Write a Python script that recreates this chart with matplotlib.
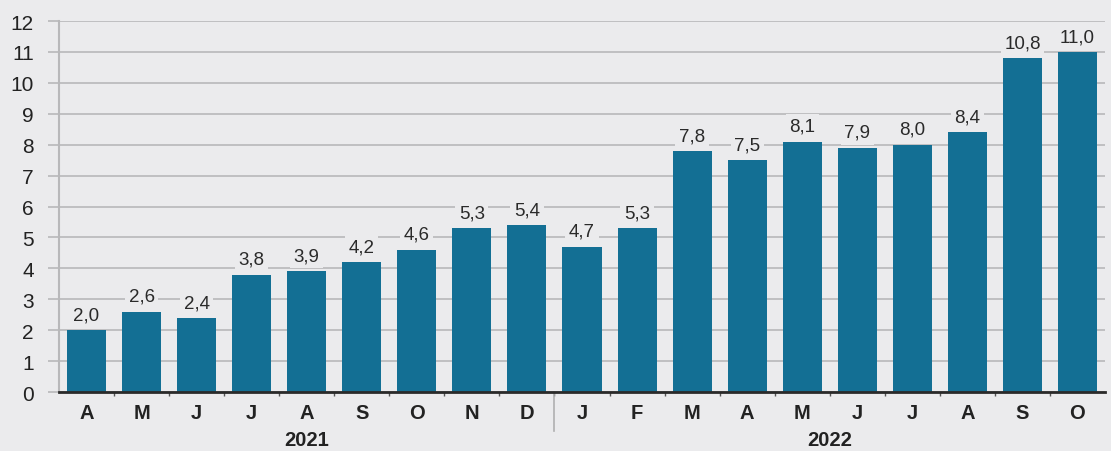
import numpy as np
import matplotlib.pyplot as plt

months = ['A', 'M', 'J', 'J', 'A', 'S', 'O', 'N', 'D',
          'J', 'F', 'M', 'A', 'M', 'J', 'J', 'A', 'S', 'O']
values = [2.0, 2.6, 2.4, 3.8, 3.9, 4.2, 4.6, 5.3, 5.4,
          4.7, 5.3, 7.8, 7.5, 8.1, 7.9, 8.0, 8.4, 10.8, 11.0]
years = ['2021', '2022']
year_start = [0, 9]
year_end = [8, 18]

bg = '#ebebed'
bar_col = '#136f94'
grid_col = '#b8b8ba'

plt.rcParams['font.family'] = ['Liberation Sans', 'DejaVu Sans']

fig = plt.figure(figsize=(11.11, 4.52), dpi=100, facecolor=bg)
ax = fig.add_axes([0.0531, 0.1305, 0.9415, 0.8208], facecolor=bg)

x = np.arange(len(values))
ax.bar(x, values, width=0.71, color=bar_col, zorder=3)

for xi, v in zip(x, values):
    ax.text(xi, v + 0.22, f'{v:.1f}'.replace('.', ','), ha='center', va='bottom',
            fontsize=13.5, color='#2a2a2a', zorder=4,
            bbox=dict(facecolor=bg, edgecolor='none', pad=2.5))

ax.set_xlim(-0.5, len(values) - 0.5)
ax.set_ylim(0, 12)
ax.set_yticks(range(0, 13))
ax.yaxis.grid(True, color=grid_col, linewidth=1.2, zorder=0)
ax.tick_params(axis='y', length=8, width=1.2, color=grid_col, labelsize=15,
               labelcolor='#222222', pad=10)

ax.set_xticks(x)
ax.set_xticklabels(months, fontsize=14.5, fontweight='bold', color='#222222')
ax.set_xticks(x[:-1] + 0.5, minor=True)
ax.tick_params(axis='x', which='major', length=0, pad=8)
ax.tick_params(axis='x', which='minor', length=3, width=1, color='#555555')

for s in ['top', 'right']:
    ax.spines[s].set_visible(False)
ax.spines['left'].set_color(grid_col)
ax.spines['left'].set_linewidth(1.5)
ax.spines['bottom'].set_color('#2a2a2a')
ax.spines['bottom'].set_linewidth(2)
ax.spines['bottom'].set_zorder(5)

# year labels and separator
for yl, s, e in zip(years, year_start, year_end):
    ax.text((s + e) / 2, -1.55, yl, ha='center', va='center', fontsize=14.5,
            fontweight='bold', color='#222222', clip_on=False)
ax.plot([8.5, 8.5], [0, -1.25], color='#b0b0b0', linewidth=1.2, clip_on=False)

fig.savefig('out.png', dpi=100, facecolor=bg)
